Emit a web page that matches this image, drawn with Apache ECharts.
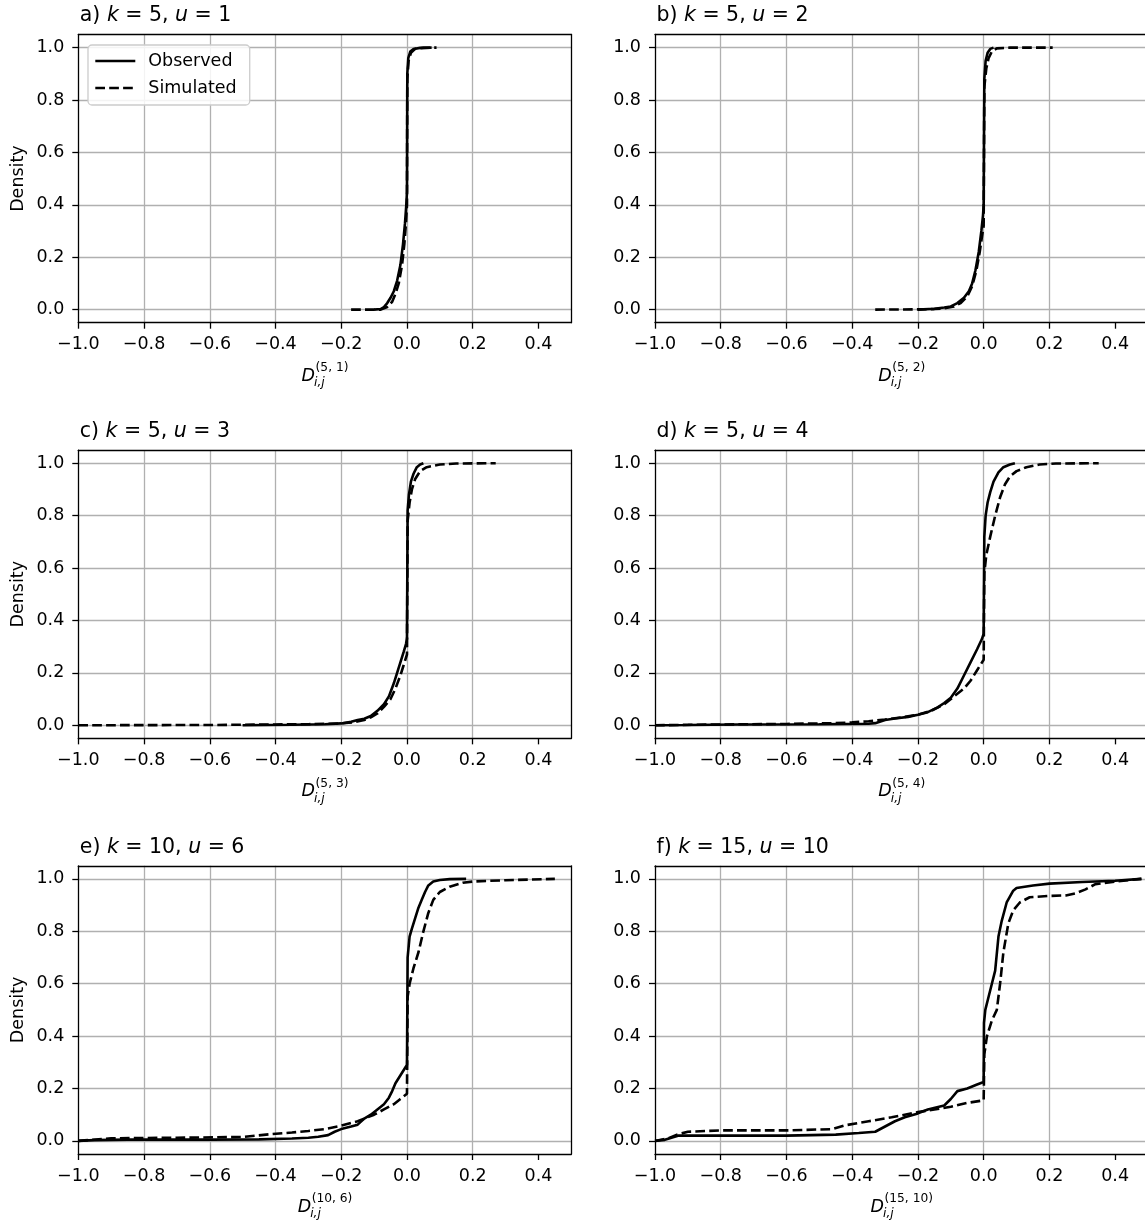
<!DOCTYPE html>
<html><head><meta charset="utf-8">
<script src="https://cdn.jsdelivr.net/npm/echarts@6/dist/echarts.min.js"></script>
<style>html,body{margin:0;padding:0;background:#fff}#c{width:1145px;height:1223px}</style>
</head><body><div id="c"></div>
<script>
// ---------- data ----------
const xTicks = [-1.0, -0.8, -0.6, -0.4, -0.2, 0.0, 0.2, 0.4];
const yTicks = [0.0, 0.2, 0.4, 0.6, 0.8, 1.0];
const panelLetters = ['a', 'b', 'c', 'd', 'e', 'f'];
const kValues = [5, 5, 5, 5, 10, 15];
const uValues = [1, 2, 3, 4, 6, 10];
const seriesNames = ['Observed', 'Simulated'];

const obs_a = [[-0.10,0],[-0.08,0.002],[-0.07,0.01],[-0.06,0.025],[-0.05,0.045],[-0.04,0.07],[-0.03,0.11],[-0.02,0.17],[-0.012,0.25],[-0.006,0.33],[-0.002,0.4],[0,0.45],[0.001,0.9],[0.004,0.96],[0.01,0.985],[0.02,0.995],[0.04,0.999],[0.075,1.0]];
const sim_a = [[-0.17,0],[-0.08,0.0],[-0.06,0.01],[-0.045,0.03],[-0.035,0.06],[-0.025,0.1],[-0.015,0.17],[-0.008,0.25],[-0.003,0.33],[0,0.4],[0.001,0.88],[0.005,0.95],[0.012,0.98],[0.025,0.995],[0.05,0.999],[0.09,1.0]];

const obs_b = [[-0.2,0],[-0.15,0.003],[-0.12,0.008],[-0.1,0.012],[-0.08,0.025],[-0.06,0.045],[-0.045,0.07],[-0.035,0.1],[-0.025,0.15],[-0.015,0.22],[-0.007,0.3],[-0.002,0.36],[0,0.4],[0.002,0.88],[0.006,0.95],[0.012,0.98],[0.02,0.995],[0.03,1.0]];
const sim_b = [[-0.33,0],[-0.2,0.001],[-0.15,0.002],[-0.12,0.005],[-0.09,0.012],[-0.07,0.025],[-0.05,0.05],[-0.035,0.09],[-0.022,0.15],[-0.012,0.22],[-0.005,0.28],[0,0.32],[0.002,0.85],[0.008,0.92],[0.015,0.96],[0.025,0.985],[0.04,0.997],[0.08,1.0],[0.21,1.0]];

const obs_c = [[-0.5,0],[-0.35,0.002],[-0.25,0.004],[-0.2,0.007],[-0.17,0.013],[-0.15,0.02],[-0.13,0.025],[-0.11,0.035],[-0.09,0.055],[-0.07,0.08],[-0.055,0.11],[-0.04,0.16],[-0.03,0.2],[-0.02,0.24],[-0.01,0.28],[-0.003,0.31],[0,0.33],[0.002,0.82],[0.006,0.88],[0.012,0.93],[0.02,0.96],[0.03,0.985],[0.04,0.995],[0.05,1.0]];
const sim_c = [[-1.0,0],[-0.6,0.001],[-0.4,0.003],[-0.3,0.004],[-0.2,0.007],[-0.16,0.012],[-0.13,0.02],[-0.11,0.03],[-0.09,0.045],[-0.07,0.07],[-0.05,0.1],[-0.035,0.14],[-0.02,0.19],[-0.01,0.23],[0,0.27],[0.002,0.78],[0.008,0.85],[0.015,0.9],[0.025,0.94],[0.04,0.97],[0.06,0.985],[0.1,0.995],[0.15,0.999],[0.27,1.0]];

const obs_d = [[-1.0,0],[-0.9,0.001],[-0.75,0.003],[-0.5,0.004],[-0.35,0.006],[-0.33,0.008],[-0.3,0.02],[-0.27,0.026],[-0.23,0.032],[-0.2,0.04],[-0.17,0.05],[-0.14,0.068],[-0.12,0.085],[-0.1,0.105],[-0.08,0.14],[-0.06,0.19],[-0.04,0.24],[-0.02,0.29],[-0.005,0.33],[0,0.35],[0.002,0.72],[0.006,0.8],[0.012,0.85],[0.02,0.89],[0.03,0.93],[0.045,0.965],[0.06,0.985],[0.08,0.995],[0.095,1.0]];
const sim_d = [[-1.0,0],[-0.8,0.003],[-0.6,0.005],[-0.45,0.008],[-0.4,0.011],[-0.35,0.015],[-0.3,0.022],[-0.25,0.03],[-0.2,0.04],[-0.16,0.055],[-0.12,0.08],[-0.09,0.11],[-0.06,0.14],[-0.04,0.17],[-0.02,0.21],[0,0.25],[0.002,0.58],[0.008,0.65],[0.02,0.72],[0.035,0.8],[0.05,0.87],[0.065,0.92],[0.08,0.95],[0.1,0.97],[0.13,0.985],[0.17,0.995],[0.22,0.999],[0.35,1.0]];

const obs_e = [[-1.0,0],[-0.95,0.003],[-0.85,0.005],[-0.6,0.005],[-0.45,0.006],[-0.35,0.009],[-0.3,0.012],[-0.27,0.016],[-0.24,0.022],[-0.22,0.035],[-0.2,0.045],[-0.17,0.055],[-0.15,0.062],[-0.13,0.085],[-0.11,0.1],[-0.09,0.12],[-0.07,0.14],[-0.055,0.165],[-0.045,0.19],[-0.035,0.22],[-0.025,0.24],[-0.015,0.26],[-0.005,0.28],[0,0.29],[0.002,0.7],[0.008,0.78],[0.015,0.81],[0.025,0.85],[0.035,0.89],[0.045,0.92],[0.055,0.95],[0.065,0.975],[0.08,0.99],[0.1,0.996],[0.13,0.999],[0.18,1.0]];
const sim_e = [[-1.0,0],[-0.9,0.01],[-0.7,0.012],[-0.5,0.015],[-0.42,0.025],[-0.35,0.032],[-0.3,0.038],[-0.25,0.045],[-0.2,0.058],[-0.15,0.075],[-0.1,0.1],[-0.07,0.12],[-0.04,0.14],[-0.02,0.16],[0,0.18],[0.002,0.55],[0.008,0.6],[0.02,0.66],[0.035,0.72],[0.05,0.8],[0.065,0.87],[0.08,0.92],[0.1,0.95],[0.13,0.97],[0.17,0.985],[0.2,0.99],[0.3,0.995],[0.45,1.0]];

const obs_f = [[-1.0,0],[-0.97,0.004],[-0.95,0.012],[-0.93,0.02],[-0.8,0.02],[-0.6,0.02],[-0.45,0.024],[-0.38,0.03],[-0.33,0.035],[-0.3,0.055],[-0.27,0.075],[-0.24,0.09],[-0.2,0.105],[-0.17,0.12],[-0.12,0.135],[-0.1,0.16],[-0.08,0.19],[-0.05,0.2],[-0.02,0.215],[0,0.225],[0.001,0.45],[0.005,0.5],[0.015,0.55],[0.025,0.6],[0.035,0.65],[0.045,0.78],[0.055,0.84],[0.07,0.91],[0.09,0.955],[0.1,0.965],[0.15,0.975],[0.2,0.982],[0.3,0.988],[0.4,0.993],[0.48,1.0]];
const sim_f = [[-1.0,0],[-0.96,0.01],[-0.93,0.025],[-0.9,0.035],[-0.8,0.04],[-0.6,0.04],[-0.46,0.045],[-0.42,0.06],[-0.35,0.075],[-0.28,0.09],[-0.2,0.11],[-0.15,0.12],[-0.1,0.13],[-0.05,0.145],[0,0.155],[0.002,0.33],[0.01,0.4],[0.025,0.46],[0.04,0.5],[0.05,0.6],[0.06,0.72],[0.075,0.83],[0.09,0.88],[0.11,0.91],[0.14,0.93],[0.2,0.935],[0.25,0.937],[0.28,0.945],[0.31,0.96],[0.34,0.98],[0.4,0.99],[0.48,1.0]];

const observedData = [obs_a, obs_b, obs_c, obs_d, obs_e, obs_f];
const simulatedData = [sim_a, sim_b, sim_c, sim_d, sim_e, sim_f];

// ---------- layout / style ----------
const FONT = 'DejaVu Sans';
const colLeft = [78.3, 655];
const rowTop = [34.5, 450.15, 865.8];
const plotW = 493, plotH = 288.2;
const tickFS = 17.5, titleFS = 20.5, subFS = 12.25;
const LW = 2.6;
const DASH = [9.7, 4.2];

const fmt = v => (Math.abs(v) < 1e-9 ? 0 : v).toFixed(1).replace('-', '\u2212');
const ctx = document.createElement('canvas').getContext('2d');
function tw(t, fs, it) { ctx.font = (it ? 'italic ' : '') + fs + 'px "' + FONT + '"'; return ctx.measureText(t).width; }

const grids = [], xAxes = [], yAxes = [], series = [], titles = [], graphics = [];
for (let i = 0; i < 6; i++) {
  const col = i % 2, row = Math.floor(i / 2);
  const L = colLeft[col], T = rowTop[row];
  grids.push({ left: L, top: T, width: plotW, height: plotH, containLabel: false, outerBoundsMode: 'none' });
  const lineSt = { color: '#000', width: 1.3 };
  // bottom x (carries grid lines, drawn under the data)
  xAxes.push({
    type: 'value', gridIndex: i, min: -1, max: 0.5, interval: 0.2, position: 'bottom',
    axisLine: { show: false, onZero: false },
    axisTick: { show: true, length: 6, lineStyle: lineSt, customValues: xTicks },
    axisLabel: { customValues: xTicks, margin: 13, fontSize: tickFS, fontFamily: FONT, color: '#000', formatter: fmt },
    splitLine: { show: true, showMinLine: false, showMaxLine: false, lineStyle: { color: '#b0b0b0', width: 1.3 } }
  });
  // frame: bottom and top lines, above data
  xAxes.push({
    type: 'value', gridIndex: i, min: -1, max: 0.5, position: 'bottom', z: 6,
    axisLine: { show: true, onZero: false, lineStyle: lineSt },
    axisTick: { show: false }, axisLabel: { show: false }, splitLine: { show: false }
  });
  xAxes.push({
    type: 'value', gridIndex: i, min: -1, max: 0.5, position: 'top', z: 6,
    axisLine: { show: true, onZero: false, lineStyle: lineSt },
    axisTick: { show: false }, axisLabel: { show: false }, splitLine: { show: false }
  });
  // left y (ticks, labels, grid lines)
  yAxes.push({
    type: 'value', gridIndex: i, min: -0.05, max: 1.05, position: 'left',
    name: col === 0 ? 'Density' : '', nameLocation: 'middle', nameGap: 51,
    nameTextStyle: { fontSize: tickFS, fontFamily: FONT, color: '#000' },
    axisLine: { show: false, onZero: false },
    axisTick: { show: true, length: 6, lineStyle: lineSt, customValues: yTicks },
    axisLabel: { customValues: yTicks, margin: 14, fontSize: tickFS, fontFamily: FONT, color: '#000', formatter: fmt },
    splitLine: { show: true, lineStyle: { color: '#b0b0b0', width: 1.3 } }
  });
  // frame: left and right lines, above data
  yAxes.push({
    type: 'value', gridIndex: i, min: -0.05, max: 1.05, position: 'left', z: 6,
    axisLine: { show: true, onZero: false, lineStyle: lineSt },
    axisTick: { show: false }, axisLabel: { show: false }, splitLine: { show: false }
  });
  yAxes.push({
    type: 'value', gridIndex: i, min: -0.05, max: 1.05, position: 'right', z: 6,
    axisLine: { show: true, onZero: false, lineStyle: lineSt },
    axisTick: { show: false }, axisLabel: { show: false }, splitLine: { show: false }
  });
  series.push({
    name: seriesNames[0], type: 'line', xAxisIndex: 3 * i, yAxisIndex: 3 * i,
    data: observedData[i], symbol: 'none', showSymbol: false, animation: false, z: 3,
    lineStyle: { color: '#000', width: LW, type: 'solid' }, itemStyle: { color: '#000' }
  });
  series.push({
    name: seriesNames[1], type: 'line', xAxisIndex: 3 * i, yAxisIndex: 3 * i,
    data: simulatedData[i], symbol: 'none', showSymbol: false, animation: false, z: 4,
    lineStyle: { color: '#000', width: LW, type: DASH }, itemStyle: { color: '#000' }
  });
  titles.push({
    text: '{n|' + panelLetters[i] + ') }{i|k}{n| = ' + kValues[i] + ', }{i|u}{n| = ' + uValues[i] + '}',
    left: L + 1.5, top: T - 29, padding: 0,
    textStyle: { fontWeight: 'normal', rich: {
      n: { fontSize: titleFS, fontFamily: FONT, color: '#000' },
      i: { fontSize: titleFS, fontFamily: FONT, fontStyle: 'italic', color: '#000' } } }
  });
  // x-axis label D_{i,j}^{(k,u)}
  const sup = '(' + kValues[i] + ', ' + uValues[i] + ')';
  const dW = tw('D', tickFS, true), supW = tw(sup, subFS, false), subW = tw('i,j', subFS, true);
  const total = dW + Math.max(supW, subW);
  const cx = L + plotW / 2, yb = T + plotH;
  const x0 = cx - total / 2;
  graphics.push({ type: 'text', x: x0, y: yb + 53.4, style: { text: 'D', fontSize: tickFS, fontFamily: FONT, fontStyle: 'italic', fill: '#000', align: 'left', verticalAlign: 'middle' } });
  graphics.push({ type: 'text', x: x0 + dW + 0.5, y: yb + 45.1, style: { text: sup, fontSize: subFS, fontFamily: FONT, fill: '#000', align: 'left', verticalAlign: 'middle' } });
  graphics.push({ type: 'text', x: x0 + dW - 1, y: yb + 60.1, style: { text: 'i,j', fontSize: subFS, fontFamily: FONT, fontStyle: 'italic', fill: '#000', align: 'left', verticalAlign: 'middle' } });
}

const chart = echarts.init(document.getElementById('c'), null, { renderer: 'canvas' });
chart.setOption({
  animation: false,
  backgroundColor: '#fff',
  title: titles,
  grid: grids,
  xAxis: xAxes,
  yAxis: yAxes,
  legend: {
    data: seriesNames, orient: 'vertical', left: 88, top: 45,
    padding: [7, 13, 8, 6], itemWidth: 40, itemHeight: 14, itemGap: 9,
    backgroundColor: 'rgba(255,255,255,0.85)', borderColor: '#cccccc', borderWidth: 1.3, borderRadius: 4,
    itemStyle: { opacity: 0, borderWidth: 0 },
    lineStyle: { width: LW },
    textStyle: { fontSize: tickFS, fontFamily: FONT, color: '#000', padding: [0, 0, 0, 8] },
    selectedMode: false, z: 10
  },
  series: series,
  graphic: graphics
});
</script></body></html>
